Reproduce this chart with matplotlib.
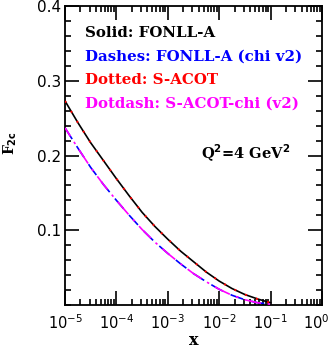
import numpy as np
import matplotlib
matplotlib.use('Agg')
import matplotlib.pyplot as plt
import matplotlib.transforms as mtransforms
from matplotlib.ticker import LogLocator, FixedLocator, MultipleLocator

# --------------------------------------------------
# data (x on log scale, quarter decades)
# --------------------------------------------------
log_x = [-5, -4.75, -4.5, -4.25, -4, -3.75, -3.5, -3.25, -3, -2.75, -2.5, -2.25, -2, -1.75, -1.5, -1.25, -1]
fonll_a = [0.273, 0.244, 0.217, 0.193, 0.169, 0.146, 0.124, 0.105, 0.088, 0.072, 0.058,
           0.044, 0.032, 0.022, 0.014, 0.008, 0.003]
s_acot = [0.273, 0.244, 0.217, 0.193, 0.169, 0.146, 0.124, 0.105, 0.088, 0.072, 0.058,
          0.044, 0.032, 0.022, 0.014, 0.008, 0.003]
fonll_a_chi = [0.237, 0.210, 0.184, 0.161, 0.140, 0.120, 0.101, 0.084, 0.069, 0.055, 0.042,
               0.031, 0.021, 0.013, 0.007, 0.003, 0.001]
s_acot_chi = [0.237, 0.210, 0.184, 0.161, 0.140, 0.120, 0.101, 0.084, 0.069, 0.055, 0.042,
              0.031, 0.021, 0.013, 0.007, 0.003, 0.001]

x_ticks = [1e-5, 1e-4, 1e-3, 1e-2, 1e-1, 1e0]
x_tick_labels = [r'$10^{-5}$', r'$10^{-4}$', r'$10^{-3}$', r'$10^{-2}$', r'$10^{-1}$', r'$10^{0}$']
y_ticks = [0.1, 0.2, 0.3, 0.4]
y_tick_labels = ['0.1', '0.2', '0.3', '0.4']

legend_lines = ['Solid: FONLL-A', 'Dashes: FONLL-A (chi v2)',
                'Dotted: S-ACOT', 'Dotdash: S-ACOT-chi (v2)']
legend_colors = ['black', 'blue', 'red', 'magenta']

plt.rcParams['mathtext.fontset'] = 'dejavusans'

x_vals = np.power(10.0, log_x)

fig = plt.figure(figsize=(3.32, 3.5), dpi=100)
ax = fig.add_axes([65 / 332, 1 - 305 / 350, 257 / 332, 299 / 350])

# curves
ax.plot(x_vals, fonll_a, color='black', lw=1.2, zorder=2)
ax.plot(x_vals, s_acot, color='red', lw=1.4, linestyle=(0, (1, 5)), zorder=3)
ax.plot(x_vals, fonll_a_chi, color='blue', lw=1.2, linestyle=(0, (8, 5)), zorder=2)
ax.plot(x_vals, s_acot_chi, color='magenta', lw=1.2, linestyle=(4, (10, 4, 1.5, 4)), zorder=3)

ax.set_xscale('log')
ax.set_xlim(1e-5, 1)
ax.set_ylim(0, 0.4)

ax.xaxis.set_major_locator(FixedLocator(x_ticks))
ax.set_xticklabels(x_tick_labels, fontsize=10.5)
ax.xaxis.set_minor_locator(LogLocator(base=10, subs=np.arange(2, 10), numticks=20))
ax.xaxis.set_minor_formatter(plt.NullFormatter())
ax.set_yticks(y_ticks)
ax.set_yticklabels(y_tick_labels, fontsize=11)
ax.yaxis.set_minor_locator(MultipleLocator(0.02))

ax.tick_params(which='both', direction='in', top=True, right=True, width=1.2)
ax.tick_params(which='major', length=10)
ax.tick_params(which='minor', length=4.5)
ax.tick_params(axis='x', which='major', pad=6)
ax.tick_params(axis='y', which='major', pad=3)
for sp in ax.spines.values():
    sp.set_linewidth(1.3)

# last x label sits against the right edge in the reference
last_lbl = ax.get_xticklabels()[-1]
last_lbl.set_transform(last_lbl.get_transform() +
                       mtransforms.ScaledTranslation(-6 / 100, 0, fig.dpi_scale_trans))

# legend as coloured text lines
for i in range(len(legend_lines)):
    ax.text(85 / 332, 1 - (33 + 23.5 * i) / 350, legend_lines[i], color=legend_colors[i],
            transform=fig.transFigure, fontsize=10.8, family='DejaVu Serif',
            fontweight='bold', va='center', ha='left')

ax.text(290 / 332, 1 - 153 / 350, r'Q$^{\mathbf{2}}$=4 GeV$^{\mathbf{2}}$',
        transform=fig.transFigure, fontsize=10.5, family='DejaVu Serif',
        fontweight='bold', va='center', ha='right')

fig.text(10 / 332, 1 - 143 / 350, r'F$_{\mathbf{2c}}$', rotation=90, fontsize=10,
         family='DejaVu Serif', fontweight='bold', va='center', ha='center')
fig.text(194 / 332, 1 - 345 / 350, 'x', fontsize=11.5, family='DejaVu Serif',
         fontweight='bold', va='baseline', ha='center')

fig.savefig('out.png', dpi=100)
